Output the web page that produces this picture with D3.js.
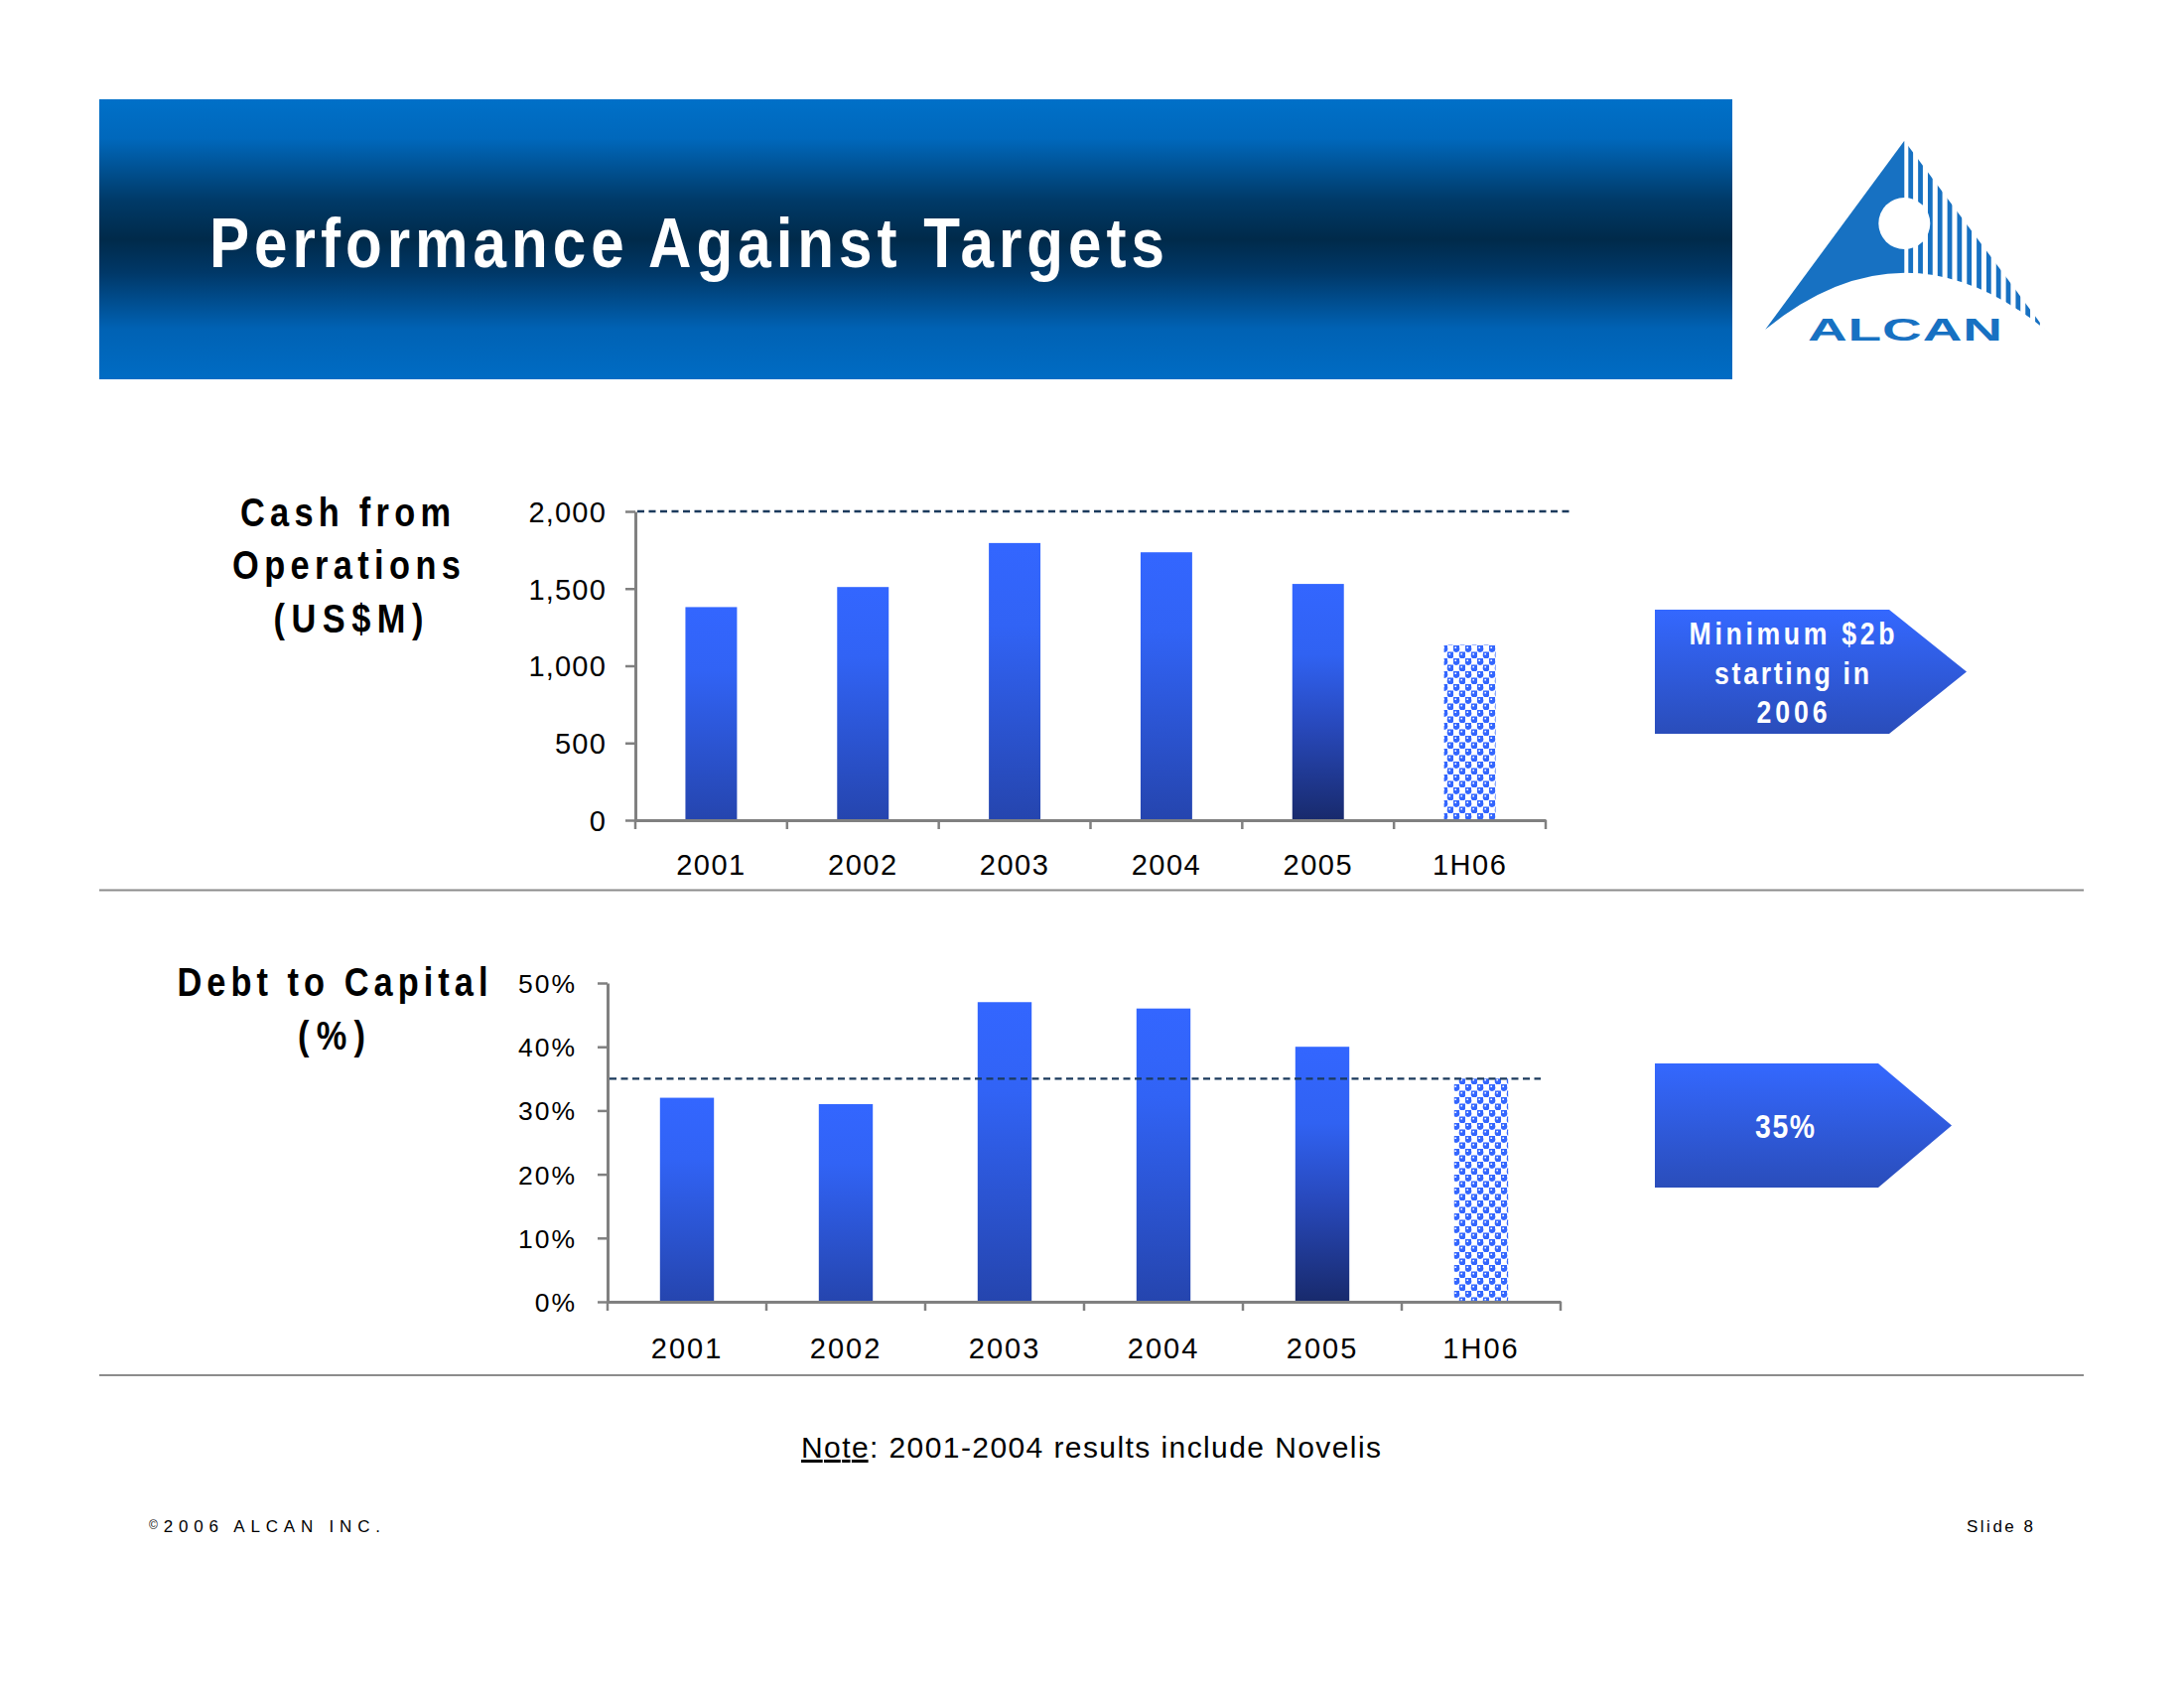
<!DOCTYPE html>
<html><head><meta charset="utf-8">
<script src="https://cdn.jsdelivr.net/npm/d3@7"></script>
<style>html,body{margin:0;padding:0;background:#fff;} svg{display:block;}</style>
</head><body>
<svg id="chart" width="2200" height="1700"></svg>
<script>
// ---------------- data ----------------
const categories = ['2001', '2002', '2003', '2004', '2005', '1H06'];
const cashValues = [1380, 1510, 1795, 1735, 1530, 1135];      // US$M
const debtValues = [0.32, 0.31, 0.47, 0.46, 0.40, 0.35];     // debt to capital
const cashTicks = [0, 500, 1000, 1500, 2000];
const debtTicks = [0, 0.1, 0.2, 0.3, 0.4, 0.5];
const cashTarget = 2000;
const debtTarget = 0.35;
const titleText = 'Performance Against Targets';
const cashLabel = ['Cash from', 'Operations', '(US$M)'];
const debtLabel = ['Debt to Capital', '(%)'];
const cashArrowText = ['Minimum $2b', 'starting in', '2006'];
const debtArrowText = ['35%'];

// ---------------- setup ----------------
const FONT = "'Liberation Sans', Arial, Helvetica, sans-serif";
const svg = d3.select('#chart');
svg.append('rect').attr('width', 2200).attr('height', 1700).attr('fill', '#fff');
const defs = svg.append('defs');

function lin(id, stops) {
  const g = defs.append('linearGradient').attr('id', id)
    .attr('x1', 0).attr('y1', 0).attr('x2', 0).attr('y2', 1);
  stops.forEach(s => g.append('stop').attr('offset', s[0]).attr('stop-color', s[1]));
}
lin('hdrGrad', [[0, '#0070C8'], [0.14, '#0068BC'], [0.36, '#003A68'], [0.5, '#002A4A'], [0.62, '#003868'], [0.82, '#0062B4'], [1, '#006CC4']]);
lin('barGrad', [[0, '#3366FF'], [0.3, '#3163F5'], [1, '#2545AE']]);
lin('barDark', [[0, '#3366FF'], [0.3, '#3062F2'], [0.6, '#2849BC'], [1, '#182A6C']]);
lin('arrowGrad', [[0, '#3468FF'], [1, '#2A4DBA']]);

// dotted pattern for the 1H06 bar
const pat = defs.append('pattern').attr('id', 'dots').attr('patternUnits', 'userSpaceOnUse')
  .attr('width', 12).attr('height', 13);
pat.append('rect').attr('width', 12).attr('height', 13).attr('fill', '#fff');
[[0, 0], [6, 6.5]].forEach(([px, py]) => {
  pat.append('rect').attr('x', px).attr('y', py).attr('width', 6).attr('height', 4).attr('fill', '#3366FF');
  pat.append('circle').attr('cx', px + 3).attr('cy', py + 3.6).attr('r', 3.3).attr('fill', '#3366FF');
  pat.append('circle').attr('cx', px + 2.2).attr('cy', py + 2.2).attr('r', 0.9).attr('fill', '#fff');
});

function addText(parent, str, o) {
  const sx = o.sx || 1;
  const t = parent.append('text')
    .attr('transform', `translate(${o.x},${o.y}) scale(${sx},1)`)
    .attr('text-anchor', o.anchor || 'start')
    .attr('fill', o.fill || '#000')
    .style('font-family', FONT)
    .style('font-size', o.size + 'px')
    .style('font-weight', o.weight || 'normal');
  if (o.width) t.attr('textLength', o.width / sx).attr('lengthAdjust', 'spacing');
  if (o.ls) t.style('letter-spacing', o.ls + 'px');
  if (str !== null) t.text(str);
  return t;
}

// ---------------- header ----------------
svg.append('rect').attr('x', 100).attr('y', 100).attr('width', 1645).attr('height', 282)
  .attr('fill', 'url(#hdrGrad)');
addText(svg, titleText, { x: 211, y: 269, size: 70, weight: 'bold', fill: '#fff', sx: 0.86, width: 962 });

// ---------------- logo ----------------
const LOGO = '#1771C2';
defs.append('clipPath').attr('id', 'logoClip')
  .append('polygon').attr('points', '1918.3,141.7 1778.3,331.7 2060,331.7');
const mask = defs.append('mask').attr('id', 'logoMask').attr('maskUnits', 'userSpaceOnUse')
  .attr('x', 1700).attr('y', 100).attr('width', 420).attr('height', 300);
mask.append('rect').attr('x', 1700).attr('y', 100).attr('width', 420).attr('height', 300).attr('fill', '#fff');
mask.append('path').attr('d', 'M1760,350 L1778.3,331.7 Q1919,218 2060,331.7 L2080,350 Z').attr('fill', '#000');
mask.append('circle').attr('cx', 1918.3).attr('cy', 225).attr('r', 26).attr('fill', '#000');
{
  const period = 9.83, sw = 4.8, x0 = 1922.3;
  mask.append('rect').attr('x', 1918.3).attr('y', 100).attr('width', x0 - 1918.3).attr('height', 300).attr('fill', '#000');
  for (let k = 0; k < 15; k++) {
    mask.append('rect').attr('x', x0 + k * period + sw).attr('y', 100)
      .attr('width', period - sw).attr('height', 300).attr('fill', '#000');
  }
}
svg.append('g').attr('clip-path', 'url(#logoClip)').attr('mask', 'url(#logoMask)')
  .append('rect').attr('x', 1760).attr('y', 130).attr('width', 320).attr('height', 220).attr('fill', LOGO);
addText(svg, 'ALCAN', { x: 1919, y: 343, size: 32, weight: 'bold', fill: LOGO, anchor: 'middle', sx: 1.72, width: 196 });

// ---------------- separators ----------------
[896.5, 1385].forEach(yy => svg.append('line').attr('x1', 100).attr('x2', 2099)
  .attr('y1', yy).attr('y2', yy).attr('stroke', '#8C8C8C').attr('stroke-width', 2));

// ---------------- charts ----------------
function fillFor(c) {
  if (c === '1H06') return 'url(#dots)';
  if (c === '2005') return 'url(#barDark)';
  return 'url(#barGrad)';
}

function drawChart(o) {
  const g = svg.append('g');
  const x = d3.scaleBand().domain(categories).range(o.xRange).paddingInner(0.66).paddingOuter(0.33);
  const y = d3.scaleLinear().domain(o.yDomain).range(o.yRange);

  // bars
  g.selectAll('rect.bar').data(categories.map((c, i) => ({ c, v: o.values[i] })))
    .join('rect').attr('class', 'bar')
    .attr('x', d => x(d.c)).attr('width', x.bandwidth())
    .attr('y', d => y(d.v)).attr('height', d => y(0) - y(d.v))
    .attr('fill', d => fillFor(d.c));

  // y axis
  const ya = g.append('g').attr('transform', `translate(${o.xRange[0]},0)`)
    .call(d3.axisLeft(y).tickValues(o.ticks).tickFormat(o.fmt).tickSize(10).tickSizeOuter(0).tickPadding(o.yPad));
  ya.select('.domain').attr('stroke', '#808080').attr('stroke-width', 3);
  ya.selectAll('.tick line').attr('stroke', '#808080').attr('stroke-width', 2.5);
  ya.selectAll('.tick text').style('font-family', FONT).style('font-size', o.yFont + 'px')
    .style('letter-spacing', o.yLs + 'px').attr('fill', '#000').attr('dy', '0.36em');

  // x axis (labels) + category boundary ticks
  const xa = g.append('g').attr('transform', `translate(0,${y(0)})`)
    .call(d3.axisBottom(x).tickSize(0).tickSizeOuter(0));
  xa.select('.domain').attr('stroke', '#808080').attr('stroke-width', 3);
  xa.selectAll('.tick text').style('font-family', FONT).style('font-size', o.xFont + 'px')
    .style('letter-spacing', o.xLs + 'px').attr('fill', '#000').attr('y', o.xLabelOffset).attr('dy', 0);
  const bounds = categories.map(c => x(c) - x.step() * x.paddingOuter());
  bounds.push(x(categories[categories.length - 1]) + x.bandwidth() + x.step() * x.paddingOuter());
  xa.selectAll('line.btick').data(bounds).join('line').attr('class', 'btick')
    .attr('x1', d => d).attr('x2', d => d).attr('y1', 0).attr('y2', 9)
    .attr('stroke', '#808080').attr('stroke-width', 2.5);

  // target line
  g.append('line').attr('x1', o.xRange[0] + 2).attr('x2', o.targetX2)
    .attr('y1', y(o.target)).attr('y2', y(o.target))
    .attr('stroke', '#1B3A5C').attr('stroke-width', 2.3).attr('stroke-dasharray', '7,4.5');
}

drawChart({
  values: cashValues, ticks: cashTicks, target: cashTarget,
  yDomain: [0, 2000], xRange: [640, 1557], yRange: [826, 515],
  fmt: d3.format(','), yFont: 29, yLs: 1.2, yPad: 19, xFont: 29, xLs: 1.5, xLabelOffset: 55,
  targetX2: 1584
});
drawChart({
  values: debtValues, ticks: debtTicks, target: debtTarget,
  yDomain: [0, 0.5], xRange: [612, 1572], yRange: [1311, 990],
  fmt: d3.format('.0%'), yFont: 26.5, yLs: 2, yPad: 21, xFont: 29, xLs: 2, xLabelOffset: 57,
  targetX2: 1552
});

// ---------------- chart labels ----------------
const lblOpts = { size: 40, weight: 'bold', anchor: 'middle', sx: 0.86 };
[[cashLabel[0], 348, 530, 212], [cashLabel[1], 349, 583, 230], [cashLabel[2], 351, 637, 151],
 [debtLabel[0], 335, 1003, 313], [debtLabel[1], 334, 1057, 68]].forEach(([s, xx, yy, w]) =>
  addText(svg, s, Object.assign({}, lblOpts, { x: xx, y: yy, width: w })));

// ---------------- arrows ----------------
function arrow(x0, y0, x1, y1, tipX) {
  const ym = (y0 + y1) / 2;
  svg.append('path').attr('d', `M${x0},${y0} L${x1},${y0} L${tipX},${ym} L${x1},${y1} L${x0},${y1} Z`)
    .attr('fill', 'url(#arrowGrad)');
}
arrow(1667, 614, 1903, 739, 1981);
[[cashArrowText[0], 649, 207], [cashArrowText[1], 689, 156], [cashArrowText[2], 728, 71]].forEach(([s, yy, w]) =>
  addText(svg, s, { x: 1805, y: yy, size: 31, weight: 'bold', fill: '#fff', anchor: 'middle', sx: 0.86, width: w }));
arrow(1667, 1071, 1892, 1196, 1966);
addText(svg, debtArrowText[0], { x: 1798, y: 1146, size: 33, weight: 'bold', fill: '#fff', anchor: 'middle', sx: 0.86, width: 60 });

// ---------------- note & footer ----------------
const note = addText(svg, null, { x: 807, y: 1468, size: 30, width: 584 });
note.append('tspan').style('text-decoration', 'underline').text('Note');
note.append('tspan').text(': 2001-2004 results include Novelis');

const foot = addText(svg, null, { x: 150, y: 1543, size: 17, width: 233 });
foot.append('tspan').style('font-size', '12px').attr('dy', -3).text('©');
foot.append('tspan').attr('dy', 3).text('2006 ALCAN INC.');
addText(svg, 'Slide 8', { x: 2048, y: 1543, size: 17, anchor: 'end', width: 67 });
</script>
</body></html>
